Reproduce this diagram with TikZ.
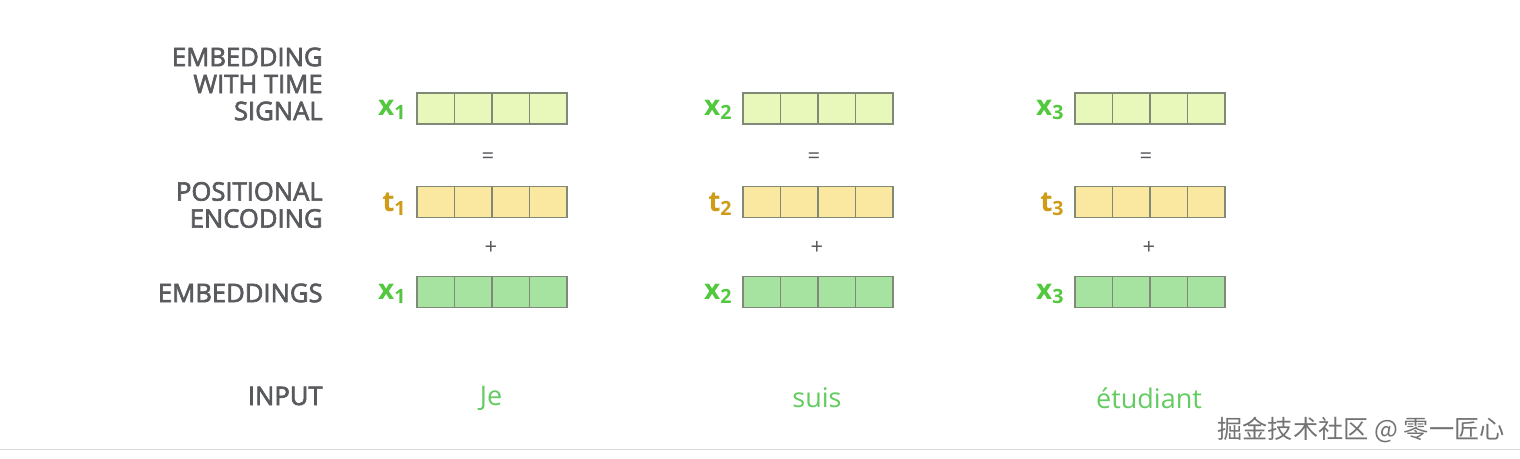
\documentclass[tikz,border=0pt]{standalone}
\usepackage{fontspec}
\setmainfont{Open Sans}
\newfontfamily\labelfont[FakeBold=2.6]{Open Sans}
\newfontfamily\cjkfont{Noto Sans CJK SC}
\usetikzlibrary{positioning}

\definecolor{labelgray}{RGB}{88,90,94}
\definecolor{cellline}{RGB}{128,136,120}
\definecolor{sigfill}{RGB}{232,248,186}
\definecolor{posfill}{RGB}{250,232,160}
\definecolor{embfill}{RGB}{166,226,160}
\definecolor{xgreen}{RGB}{82,200,62}
\definecolor{tgold}{RGB}{206,156,22}
\definecolor{wordgreen}{RGB}{98,204,96}

\begin{document}
\begin{tikzpicture}[x=0.5pt,y=-0.5pt,
    cell/.style={draw=cellline,line width=0.7pt,minimum width=18.75pt,minimum height=15.5pt,inner sep=0pt},
    rowlabel/.style={anchor=east,align=right,inner sep=0pt,text=labelgray,font=\labelfont\fontsize{12.8}{13.5}\selectfont},
    veclabel/.style={anchor=east,inner sep=0pt,font=\fontsize{14}{14}\selectfont\bfseries},
    op/.style={text=labelgray,font=\fontsize{11}{11}\selectfont},
    word/.style={text=wordgreen,font=\fontsize{13.5}{16}\selectfont}]
  \useasboundingbox (0,0) rectangle (1520,459);

  % row labels
  \node[rowlabel] (siglabel) at (323,84) {EMBEDDING\\WITH TIME\\SIGNAL};
  \node[rowlabel] (poslabel) at (323,205) {POSITIONAL\\ENCODING};
  \node[rowlabel] (emblabel) at (323,293) {EMBEDDINGS};
  \node[rowlabel] (inlabel) at (323,396) {INPUT};

  % one column per input word
  \foreach \c/\l/\w in {1/417/Je, 2/743/suis, 3/1075/étudiant} {
    \foreach \k in {1,...,4} {
      \node[cell,fill=sigfill] (sig\c-\k) at ({\l+18.75+37.5*(\k-1)},108.5) {};
      \node[cell,fill=posfill] (pos\c-\k) at ({\l+18.75+37.5*(\k-1)},202) {};
      \node[cell,fill=embfill] (emb\c-\k) at ({\l+18.75+37.5*(\k-1)},292) {};
    }
    \node[veclabel,text=xgreen] (xs\c) at ({\l-10},110) {x\textsubscript{\c}};
    \node[veclabel,text=tgold] (ts\c) at ({\l-10},204) {t\textsubscript{\c}};
    \node[veclabel,text=xgreen] (xe\c) at ({\l-10},294) {x\textsubscript{\c}};
    \node[op] (eq\c) at ({\l+71},158) {=};
    \node[op] (plus\c) at ({\l+74},248) {+};
    \node[word] (in\c) at ({\l+74},398) {\w};
  }

  % watermark
  \node[anchor=east,inner sep=0pt,text=black!55,font=\cjkfont\fontsize{12.6}{12.6}\selectfont] (mark) at (1505,430) {掘金技术社区 @ 零一匠心};
  \draw[black!14,line width=0.8pt] (0,449.5) -- (1520,449.5);
\end{tikzpicture}
\end{document}
